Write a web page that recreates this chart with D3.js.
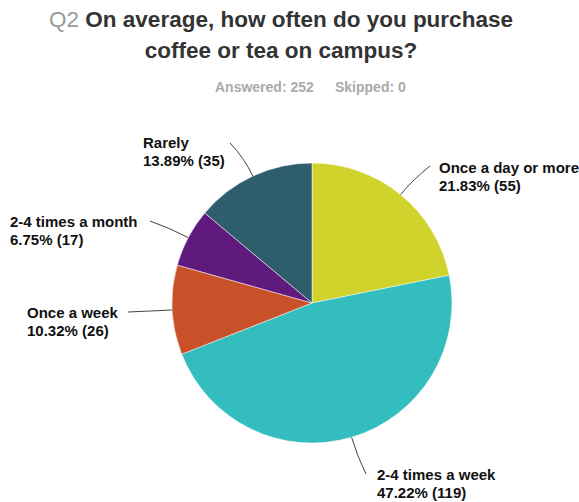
<!DOCTYPE html>
<html>
<head>
<meta charset="utf-8">
<script src="https://cdn.jsdelivr.net/npm/d3@7"></script>
<style>
  body { margin: 0; background: #fff; }
  text { font-family: "Liberation Sans", Arial, sans-serif; }
</style>
</head>
<body>
<svg id="chart" width="579" height="502"></svg>
<script>
const categories = ["Once a day or more", "2-4 times a week", "Once a week", "2-4 times a month", "Rarely"];
const counts = [55, 119, 26, 17, 35];
const percents = ["21.83%", "47.22%", "10.32%", "6.75%", "13.89%"];
const colors = ["#d0d32b", "#33bdbe", "#c8512a", "#601a7e", "#2e5e6b"];
// label anchor (x, y of first line) and where the leader ends
const labelPos = [
  { x: 439, y: 173, lx: 430, ly: 166 },
  { x: 377, y: 480, lx: 366, ly: 474 },
  { x: 27, y: 318, lx: 128, ly: 312 },
  { x: 10, y: 227, lx: 150, ly: 221 },
  { x: 143, y: 148, lx: 230, ly: 143 }
];

const svg = d3.select("#chart");
const cx = 312, cy = 303, r = 140;

// title
const title = svg.append("text")
  .attr("text-anchor", "middle")
  .attr("font-size", 22.5)
  .attr("font-weight", "bold");
title.append("tspan").attr("x", 281).attr("y", 27)
  .attr("fill", "#9a9a9a").attr("font-weight", "normal").text("Q2 ");
title.append("tspan").attr("fill", "#333").text("On average, how often do you purchase");
svg.append("text")
  .attr("x", 281).attr("y", 58)
  .attr("text-anchor", "middle")
  .attr("font-size", 22.5).attr("font-weight", "bold")
  .attr("fill", "#333")
  .text("coffee or tea on campus?");

svg.append("text")
  .attr("x", 215).attr("y", 92)
  .attr("font-size", 14).attr("font-weight", "bold")
  .attr("fill", "#aaa")
  .text("Answered: 252");
svg.append("text")
  .attr("x", 335).attr("y", 92)
  .attr("font-size", 14).attr("font-weight", "bold")
  .attr("fill", "#aaa")
  .text("Skipped: 0");

const data = categories.map((c, i) => ({ name: c, value: counts[i], pct: percents[i], i: i }));

const pie = d3.pie().sort(null).value(d => d.value);
const arc = d3.arc().innerRadius(0).outerRadius(r);
const arcs = pie(data);

const g = svg.append("g").attr("transform", `translate(${cx},${cy})`);

g.selectAll("path.slice")
  .data(arcs)
  .enter()
  .append("path")
  .attr("class", "slice")
  .attr("d", arc)
  .attr("fill", d => colors[d.data.i])
  .attr("stroke", "#fff")
  .attr("stroke-width", 0.5);

// leader lines + labels
arcs.forEach(d => {
  const a = (d.startAngle + d.endAngle) / 2;
  const sx = cx + r * Math.sin(a), sy = cy - r * Math.cos(a);
  const qx = cx + (r + 20) * Math.sin(a), qy = cy - (r + 20) * Math.cos(a);
  const p = labelPos[d.data.i];
  const path = d3.path();
  path.moveTo(sx, sy);
  path.quadraticCurveTo(qx, qy, p.lx, p.ly);
  svg.append("path")
    .attr("d", path.toString())
    .attr("fill", "none")
    .attr("stroke", "#444")
    .attr("stroke-width", 1);

  const t = svg.append("text")
    .attr("font-size", 15)
    .attr("font-weight", "bold")
    .attr("fill", "#111");
  t.append("tspan").attr("x", p.x).attr("y", p.y).text(d.data.name);
  t.append("tspan").attr("x", p.x).attr("y", p.y + 17.5).text(`${d.data.pct} (${d.data.value})`);
});
</script>
</body>
</html>
